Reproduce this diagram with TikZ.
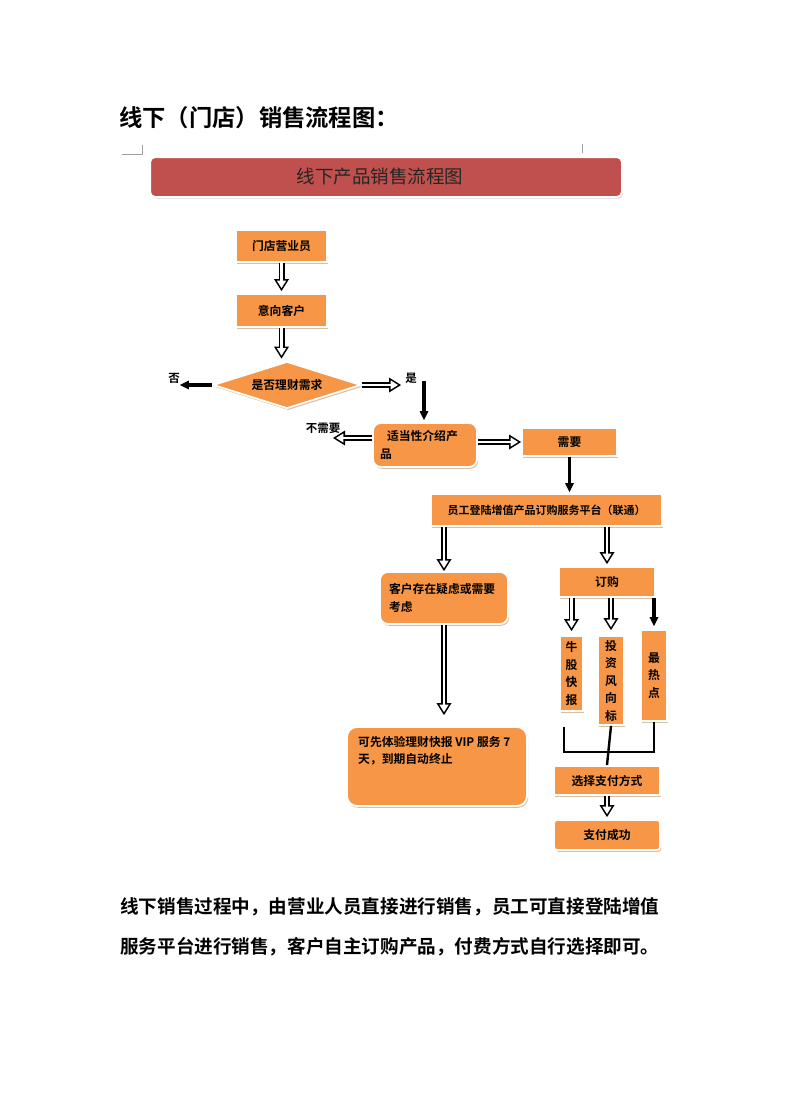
\documentclass[tikz,border=0pt]{standalone}
\usepackage{fontspec}
\setmainfont{Noto Sans CJK SC}[BoldFont={Noto Sans CJK SC Bold}]
\usetikzlibrary{arrows.meta,shapes.geometric,shadows}
\definecolor{box_orange}{RGB}{247,150,70}
\definecolor{title_red}{RGB}{192,80,77}
\definecolor{shadow_tan}{RGB}{205,175,145}
\definecolor{mark_gray}{RGB}{160,160,160}

\begin{document}
\begin{tikzpicture}[x=1pt,y=-1pt]
    \tikzstyle{box}=[draw=white, line width=1.8pt, fill=box_orange, inner sep=0pt, text=black, font=\bfseries\fontsize{11.8}{17.5}\selectfont, drop shadow={shadow xshift=1.2pt, shadow yshift=-1.8pt, fill=shadow_tan, opacity=0.8}]
    \tikzstyle{rbox}=[style=box, rounded corners=8pt]
    \tikzstyle{vbox}=[style=box, align=center]
    \tikzstyle{lbl}=[inner sep=0pt, font=\bfseries\fontsize{11.5}{12}\selectfont]
    \tikzset{hollow/.style={preaction={draw=black, line width=6pt, -{Triangle[length=12pt,width=15pt,line width=0pt]}, shorten >=#1},
        draw=white, line width=2.8pt, -{Triangle[length=7.4pt,width=9.2pt,line width=0pt]}, shorten >=#1+3pt},
      hollow/.default=0pt}
    \tikzstyle{blackarrow}=[draw=black, line width=3.4pt, -{Triangle[length=9pt,width=9pt,line width=0pt]}]
    \tikzstyle{bracketline}=[draw=black, line width=2.4pt]

    \useasboundingbox (0,0) rectangle (792,1120);

    \node[anchor=west, inner sep=0pt, font=\bfseries\fontsize{23.3}{24}\selectfont] (title) at (119,118) {线下（门店）销售流程图：};
    \draw[mark_gray, line width=0.5pt] (122,154) -- (142,154) -- (142,145);
    \draw[mark_gray, line width=0.5pt] (582,144) -- (582,153);

    \node[draw=white, line width=2pt, fill=title_red, rounded corners=5pt, minimum width=472pt, minimum height=40pt, text=black!85, font=\fontsize{18.5}{20}\selectfont, drop shadow={shadow xshift=1.2pt, shadow yshift=-1.8pt, fill=black!25}] (banner) at (386,177) {\hspace*{-12pt}线下产品销售流程图};

    \node[box, minimum width=91pt, minimum height=32pt] (store) at (281.5,246) {门店营业员};
    \node[box, minimum width=91pt, minimum height=33pt] (intent) at (281.5,310.5) {意向客户};
    \node[box, diamond, aspect=3.15, minimum width=148pt, minimum height=47pt] (ask) at (287,385) {是否理财需求};
    \node[lbl] (no) at (174,378) {否};
    \node[lbl] (yes) at (411,378) {是};
    \coordinate (drop) at (424,381);
    \node[rbox, minimum width=104pt, minimum height=44pt, align=left, text width=90pt] (fit) at (425,445) {\hspace*{7pt}适当性介绍产\\品};
    \node[lbl] (noneed) at (323,428) {不需要};
    \coordinate (left) at (333,438);
    \node[box, minimum width=95pt, minimum height=28pt] (need) at (569.5,442) {需要};
    \node[box, minimum width=231pt, minimum height=32pt, font=\bfseries\fontsize{11}{12}\selectfont] (platform) at (546.5,510) {员工登陆增值产品订购服务平台（联通）};
    \node[rbox, minimum width=128pt, minimum height=52pt, align=left, text width=110pt] (doubt) at (444,598) {客户存在疑虑或需要\\考虑};
    \node[rbox, rounded corners=10pt, minimum width=180pt, minimum height=79pt] (trial) at (437,766.5) {};
    \node[anchor=north west, align=left, inner sep=0pt, font=\bfseries\fontsize{11.8}{17}\selectfont] (trialtext) at (358,736) {可先体验理财快报 VIP 服务 7\\天，到期自动终止};
    \node[box, minimum width=96pt, minimum height=30pt] (order) at (607,582) {订购};
    \node[vbox, minimum width=23pt, minimum height=75pt] (bull) at (571.5,673.5) {牛\\股\\快\\报};
    \node[vbox, minimum width=26pt, minimum height=89pt] (risk) at (611,680.5) {投\\资\\风\\向\\标};
    \node[vbox, minimum width=26pt, minimum height=91pt] (hot) at (654,675.5) {最\\热\\点};
    \node[box, minimum width=106pt, minimum height=29pt] (pay) at (607,780.5) {选择支付方式};
    \node[box, rounded corners=3pt, minimum width=106pt, minimum height=30pt] (done) at (607,835) {支付成功};

    \node[anchor=west, inner sep=0pt, font=\bfseries\fontsize{18.6}{20}\selectfont] (para1) at (120,907) {线下销售过程中，由营业人员直接进行销售，员工可直接登陆增值};
    \node[anchor=west, inner sep=0pt, font=\bfseries\fontsize{18.6}{20}\selectfont] (para2) at (120,947) {服务平台进行销售，客户自主订购产品，付费方式自行选择即可。};

    \path
     (store.south) edge[hollow=2pt] (intent.north)
     (intent.south) edge[hollow=2pt] (intent.south |- ask.north)
     (ask.west) edge[blackarrow] (ask.west -| no.east)
     (ask.east) edge[hollow=4pt] (ask.east -| yes.west)
     (drop) edge[blackarrow, shorten >=2pt] (drop |- fit.north)
     ([yshift=7pt]fit.west) edge[hollow] (left)
     (need.west -| fit.east) edge[hollow] (need.west)
     (need.south) edge[blackarrow, shorten >=1pt] (need.south |- platform.north)
     (doubt.north |- platform.south) edge[hollow] (doubt.north)
     (order.north |- platform.south) edge[hollow=2pt] (order.north)
     (doubt.south) edge[hollow=11pt] (doubt.south |- trial.north)
     (bull.north |- order.south) edge[hollow=4pt] (bull.north)
     (risk.north |- order.south) edge[hollow=5pt] (risk.north)
     (hot.north |- order.south) edge[blackarrow, shorten >=3pt] (hot.north)
     (pay.south) edge[hollow=2pt] (done.north)
     ;
    \draw[bracketline] ([xshift=-7.5pt, yshift=-15pt]bull.south) |- (hot.south |- 0,752) -- (hot.south);
    \draw[bracketline] (risk.south) -- (pay.north);
\end{tikzpicture}
\end{document}
